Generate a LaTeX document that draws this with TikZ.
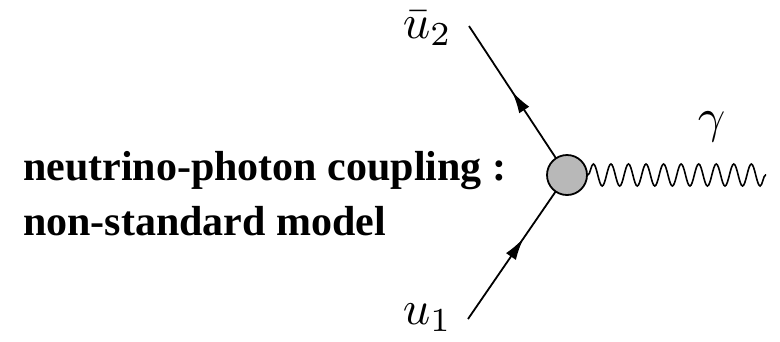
\documentclass[tikz,border=0pt]{standalone}
\usepackage{fontspec}
\newfontfamily\tnr{Liberation Serif}
\usetikzlibrary{arrows.meta,decorations.markings,decorations.pathmorphing}
\tikzset{
  fermion/.style={line width=1.8pt,postaction={decorate},
    decoration={markings,mark=at position 0.56 with {\arrow{Latex[length=22pt,width=12pt]}}}},
  photon/.style={line width=1.6pt,decorate,
    decoration={snake,segment length=17.55pt,amplitude=11pt}},
  blob/.style={circle,draw,line width=1.8pt,fill=black!28,minimum size=40pt,inner sep=0pt},
  lab/.style={inner sep=0pt,anchor=base west,scale=4.8},
  txt/.style={inner sep=0pt,anchor=base west,font=\tnr\bfseries\fontsize{42}{50}\selectfont}
}
\begin{document}
\begin{tikzpicture}[x=1pt,y=-1pt]
\useasboundingbox (0,0) rectangle (780,341);
\coordinate (vc) at (567,175);
\coordinate (top) at (469,26);
\coordinate (bot) at (468,319);
\coordinate (gend) at (766,175);
\draw[fermion] (vc) -- (top);
\draw[fermion] (bot) -- (vc);
\node[blob] (v) at (vc) {};
\draw[photon] (v.east) -- (gend);
\node[lab] (lu2) at (402,38) {$\bar{u}_2$};
\node[lab] (lu1) at (402,324) {$u_1$};
\node[lab] (lg) at (697,132) {$\gamma$};
\node[txt] (t1) at (23,180) {neutrino-photon coupling :};
\node[txt] (t2) at (23,235) {non-standard model};
\end{tikzpicture}
\end{document}
